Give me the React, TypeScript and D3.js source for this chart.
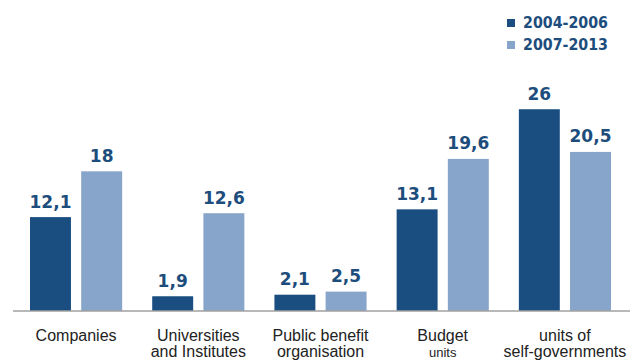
import React from "react";
import * as d3 from "d3";

const categories = ["Companies", "Universities and Institutes", "Public benefit organisation", "Budget units", "units of self-governments"];
const labelLines: { text: string; small?: boolean }[][] = [
  [{ text: "Companies" }],
  [{ text: "Universities" }, { text: "and Institutes" }],
  [{ text: "Public benefit" }, { text: "organisation" }],
  [{ text: "Budget" }, { text: "units", small: true }],
  [{ text: "units of" }, { text: "self-governments" }],
];
const seriesNames = ["2004-2006", "2007-2013"];
const values2004 = [12.1, 1.9, 2.1, 13.1, 26];
const values2007 = [18, 12.6, 2.5, 19.6, 20.5];
const colors = ["#1a4e80", "#87a4ca"];

const W = 630;
const H = 360;

export default function App() {
  const x = d3.scaleBand<string>().domain(categories).range([30, 611]).paddingInner(0.246);
  const xi = d3.scaleBand<string>().domain(seriesNames).range([0, x.bandwidth()]).paddingInner(0.2);
  const y = d3.scaleLinear().domain([0, 30]).range([311, 311 - 30 * 7.76]);
  const fmt = (v: number) => String(v).replace(".", ",");
  const series = [values2004, values2007];

  return (
    <svg width={W} height={H} style={{ position: "absolute", left: 0, top: 0, background: "#fff" }}>
      {categories.map((c, i) => (
        <g key={c} transform={`translate(${x(c)},0)`}>
          {seriesNames.map((s, j) => {
            const v = series[j][i];
            const bx = xi(s)!;
            const bw = xi.bandwidth();
            return (
              <g key={s}>
                <rect x={bx} y={y(v)} width={bw} height={y(0) - y(v)} fill={colors[j]} />
                <text
                  x={bx + bw / 2}
                  y={y(v) - 9.5}
                  textAnchor="middle"
                  fontFamily="DejaVu Sans"
                  fontWeight="bold"
                  fontSize={17}
                  fill="#1d4d7c"
                >
                  {fmt(v)}
                </text>
              </g>
            );
          })}
          {labelLines[i].map((l, k) => (
            <text
              key={k}
              x={x.bandwidth() / 2}
              y={341 + k * 16}
              textAnchor="middle"
              fontFamily="Liberation Sans, Arial, sans-serif"
              fontSize={l.small ? 13 : 16}
              fill="#222"
            >
              {l.text}
            </text>
          ))}
        </g>
      ))}
      <line x1={13} x2={630} y1={311} y2={311} stroke="#a0a0a0" strokeWidth={1.5} />
      {seriesNames.map((s, j) => (
        <g key={s} transform={`translate(507,${19 + j * 22})`}>
          <rect x={0} y={0} width={8} height={8} fill={colors[j]} />
          <text
            x={16}
            y={9}
            fontFamily="DejaVu Sans"
            fontWeight="bold"
            fontSize={16}
            fill="#1d4d7c"
            textLength={85}
            lengthAdjust="spacingAndGlyphs"
          >
            {s}
          </text>
        </g>
      ))}
    </svg>
  );
}
